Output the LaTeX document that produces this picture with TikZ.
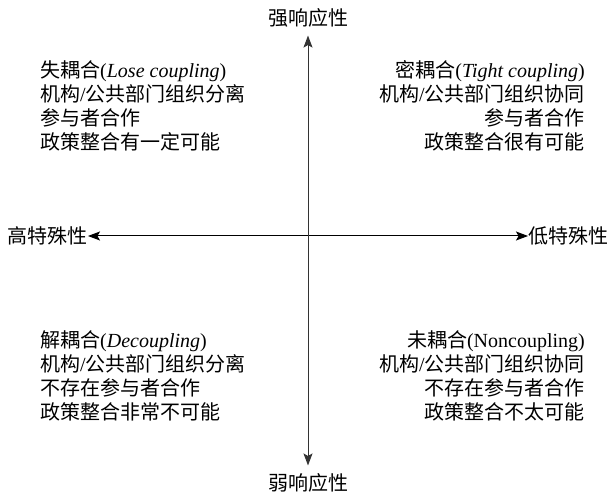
\documentclass[tikz,border=0pt]{standalone}
\usepackage{fontspec}
\setmainfont{Liberation Serif}
\newfontfamily\cjk{Noto Sans CJK SC}
\usetikzlibrary{arrows.meta}
\tikzset{
  txt/.style={inner sep=0pt, font=\fontsize{20}{24}\selectfont},
  axlabel/.style={inner sep=0pt, font=\cjk\fontsize{20}{24}\selectfont},
  tip/.style={Stealth[length=12pt,width=9pt,inset=2.5pt]},
  axis/.style={line width=1pt, {Stealth[length=12pt,width=9pt,inset=2.5pt]}-{Stealth[length=12pt,width=9pt,inset=2.5pt]}},
}
\begin{document}
\begin{tikzpicture}[x=1pt,y=-1pt]
\useasboundingbox (0,0) rectangle (607,494);
% axis labels
\node[axlabel] (top) at (308,18) {强响应性};
\node[axlabel] (bot) at (308,483) {弱响应性};
\node[axlabel, anchor=east] (left) at (88,236) {高特殊性};
\node[axlabel, anchor=west] (right) at (528,236) {低特殊性};
% axes
\draw[axis, black] (left.east) -- (right.west);
\draw[axis, black!80] ([yshift=-8pt]top.south) -- ([yshift=8pt]bot.north);
% quadrant texts
\node[txt, align=left, anchor=west] (tl) at (40,106) {%
{\cjk 失耦合}(\textit{Lose coupling})\\
{\cjk 机构}/{\cjk 公共部门组织分离}\\
{\cjk 参与者合作}\\
{\cjk 政策整合有一定可能}};
\node[txt, align=right, anchor=east] (tr) at (585,106) {%
{\cjk 密耦合}(\textit{Tight coupling})\\
{\cjk 机构}/{\cjk 公共部门组织协同}\\
{\cjk 参与者合作}\\
{\cjk 政策整合很有可能}};
\node[txt, align=left, anchor=west] (bl) at (40,376) {%
{\cjk 解耦合}(\textit{Decoupling})\\
{\cjk 机构}/{\cjk 公共部门组织分离}\\
{\cjk 不存在参与者合作}\\
{\cjk 政策整合非常不可能}};
\node[txt, align=right, anchor=east] (br) at (585,376) {%
{\cjk 未耦合}(Noncoupling)\\
{\cjk 机构}/{\cjk 公共部门组织协同}\\
{\cjk 不存在参与者合作}\\
{\cjk 政策整合不太可能}};
\end{tikzpicture}
\end{document}
